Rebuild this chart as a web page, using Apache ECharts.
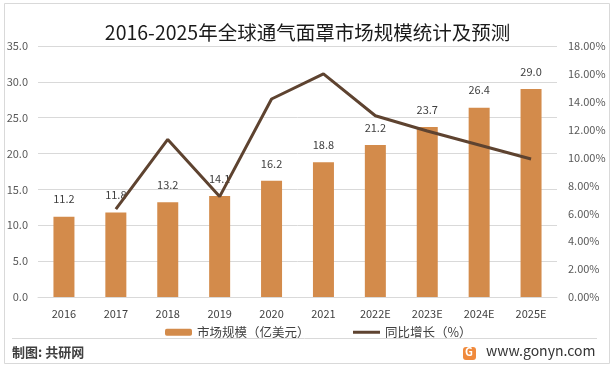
<!DOCTYPE html>
<html><head><meta charset="utf-8">
<script src="https://cdn.jsdelivr.net/npm/echarts@6/dist/echarts.min.js"></script>
<style>html,body{margin:0;padding:0;background:#fff}#c{width:615px;height:370px}</style>
</head><body><div id="c"></div>
<script>
const categories = ['2016','2017','2018','2019','2020','2021','2022E','2023E','2024E','2025E'];
const marketSize = [11.2, 11.8, 13.2, 14.1, 16.2, 18.8, 21.2, 23.7, 26.4, 29.0];
const growthPct = ['-', 6.3, 11.3, 7.2, 14.2, 16.0, 13.0, 11.9, 10.9, 9.9];
const seriesNames = ['市场规模（亿美元）', '同比增长（%）'];
const titleText = '2016-2025年全球通气面罩市场规模统计及预测';

const font = '"Noto Sans CJK SC", "Noto Sans", sans-serif';
const chart = echarts.init(document.getElementById('c'), null, {renderer: 'canvas'});
chart.setOption({
  animation: false,
  backgroundColor: '#fff',
  title: {
    text: titleText, left: 'center', top: 18,
    textStyle: {fontFamily: font, fontSize: 19.5, fontWeight: 'normal', color: '#1a1a1a'}
  },
  grid: {left: 38, right: 58, top: 46, bottom: 73},
  legend: [{
    left: 160, top: 321, itemWidth: 27, itemHeight: 7,
    textStyle: {fontFamily: font, fontSize: 12.5, color: '#404040'},
    data: [seriesNames[0]]
  }, {
    left: 348, top: 321, itemWidth: 27, itemHeight: 3, icon: 'rect',
    textStyle: {fontFamily: font, fontSize: 12.5, color: '#404040'},
    data: [seriesNames[1]]
  }],
  xAxis: {
    type: 'category', data: categories,
    axisLine: {lineStyle: {color: '#D9D9D9'}},
    axisTick: {show: false},
    axisLabel: {color: '#404040', fontFamily: font, fontSize: 11, margin: 11}
  },
  yAxis: [{
    type: 'value', min: 0, max: 35, interval: 5,
    axisLine: {show: false}, axisTick: {show: false},
    splitLine: {lineStyle: {color: '#D9D9D9'}},
    axisLabel: {color: '#595959', fontFamily: font, fontSize: 11, margin: 10,
      formatter: v => v.toFixed(1)}
  }, {
    type: 'value', min: 0, max: 18, interval: 2,
    axisLine: {show: false}, axisTick: {show: false},
    splitLine: {show: false},
    axisLabel: {color: '#595959', fontFamily: font, fontSize: 11, margin: 11,
      formatter: v => v.toFixed(2) + '%'}
  }],
  series: [{
    name: seriesNames[0], type: 'bar', data: marketSize, barWidth: 21,
    itemStyle: {color: '#D38B4B'},
    label: {show: true, position: 'top', distance: 12, color: '#404040',
      fontFamily: font, fontSize: 11, formatter: p => p.value.toFixed(1)}
  }, {
    name: seriesNames[1], type: 'line', yAxisIndex: 1, data: growthPct,
    symbol: 'none', lineStyle: {color: '#5E4330', width: 3},
    itemStyle: {color: '#5E4330'}, z: 5
  }],
  graphic: [
    {type: 'rect', shape: {x: 4.5, y: 3.5, width: 605, height: 360},
      style: {fill: 'none', stroke: '#D9D9D9', lineWidth: 1}, silent: true},
    {type: 'line', shape: {x1: 12, y1: 338.5, x2: 597, y2: 338.5},
      style: {stroke: '#D9D9D9', lineWidth: 1}},
    {type: 'text', left: 12, top: 346,
      style: {text: '制图: 共研网', fontFamily: font, fontSize: 13, fontWeight: 'bold', fill: '#404040'}},
    {type: 'rect', shape: {x: 463, y: 347, width: 13, height: 13, r: 3},
      style: {fill: '#F08A3C'}},
    {type: 'text', left: 465, top: 346,
      style: {text: 'G', fontFamily: font, fontSize: 11, fontWeight: 'bold', fill: '#fff'}},
    {type: 'text', left: 486, top: 344,
      style: {text: 'www.gonyn.com', fontFamily: font, fontSize: 14, fill: '#333'}}
  ]
});
</script></body></html>
